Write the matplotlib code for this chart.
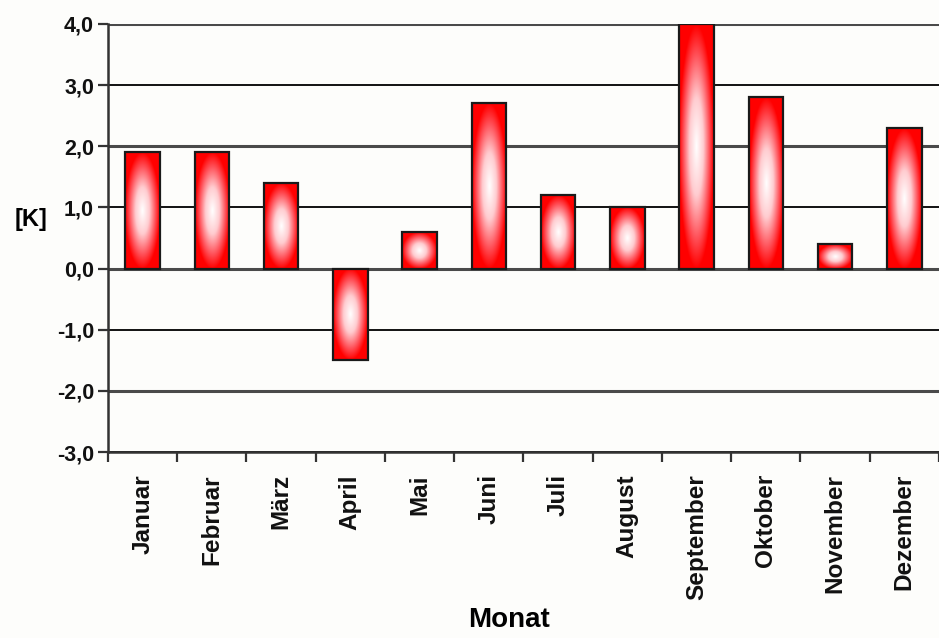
import numpy as np
import matplotlib
matplotlib.use("Agg")
import matplotlib.pyplot as plt
from matplotlib.patches import Rectangle
from matplotlib.ticker import FuncFormatter, FixedLocator
from matplotlib.colors import LinearSegmentedColormap

months = ["Januar", "Februar", "März", "April", "Mai", "Juni", "Juli",
          "August", "September", "Oktober", "November", "Dezember"]
values = [1.9, 1.9, 1.4, -1.5, 0.6, 2.7, 1.2, 1.0, 4.0, 2.8, 0.4, 2.3]
yticks = [-3, -2, -1, 0, 1, 2, 3, 4]

font = ['Liberation Sans', 'DejaVu Sans']
bg = '#fdfdfb'

fig = plt.figure(figsize=(9.39, 6.38), dpi=100)
fig.patch.set_facecolor(bg)
ax = fig.add_axes([0.115, 0.2915, 0.885, 0.671])
ax.set_facecolor(bg)

for y in yticks:
    if y % 2 == 0:
        ax.axhline(y, color='#4a4a4a', lw=2.2, zorder=1)
    else:
        ax.axhline(y, color='#111111', lw=1.4, zorder=1)

# white centre fading to red at the edges
cmap = LinearSegmentedColormap.from_list(
    'rg', [(0.0, '#ffffff'), (0.4, '#ffccd0'), (0.75, '#ff525a'), (1.0, '#ff0000')])
width = 0.5
gx = np.linspace(-1, 1, 101)
gy = np.linspace(-1, 1, 201)
GX, GY = np.meshgrid(gx, gy)
R = np.clip(np.sqrt(GX ** 2 + GY ** 2), 0, 1)

for i, v in enumerate(values):
    x0 = i - width / 2
    y0, y1 = min(0, v), max(0, v)
    rect = Rectangle((x0, y0), width, y1 - y0, facecolor='none',
                     edgecolor='#1a1a1a', lw=1.6, zorder=4)
    ax.add_patch(rect)
    im = ax.imshow(R, cmap=cmap, vmin=0, vmax=1, extent=(x0, x0 + width, y0, y1),
                   origin='lower', aspect='auto', interpolation='bilinear', zorder=3)
    im.set_clip_path(rect)

ax.set_xlim(-0.5, len(months) - 0.5)
ax.set_ylim(-3, 4)

for s in ['top', 'right']:
    ax.spines[s].set_visible(False)
for s in ['left', 'bottom']:
    ax.spines[s].set_color('#333333')
    ax.spines[s].set_linewidth(1.8)

ax.yaxis.set_major_locator(FixedLocator(yticks))
ax.yaxis.set_major_formatter(FuncFormatter(lambda v, p: f"{v:.1f}".replace('.', ',')))
ax.tick_params(axis='y', length=7, width=1.6, color='#333333', pad=3)

ax.set_xticks(np.arange(len(months)))
ax.set_xticklabels(months, rotation=90)
ax.set_xticks(np.arange(-0.5, len(months), 1), minor=True)
ax.tick_params(axis='x', which='major', length=0, pad=16)
ax.tick_params(axis='x', which='minor', length=7, width=1.6, color='#333333')

for lab in ax.get_yticklabels():
    lab.set_fontfamily(font)
    lab.set_fontweight('bold')
    lab.set_fontsize(15.5)
    lab.set_color('#111111')
for lab in ax.get_xticklabels():
    lab.set_fontfamily(font)
    lab.set_fontweight('bold')
    lab.set_fontsize(17.5)
    lab.set_color('#111111')

ax.set_xlabel("Monat", fontfamily=font, fontweight='bold', fontsize=20, va='center')
ax.xaxis.set_label_coords(0.4826, -0.3925)
ax.set_ylabel("[K]", fontfamily=font, fontweight='bold', fontsize=17,
              rotation=0, va='center', ha='center')
ax.yaxis.set_label_coords(-0.092, 0.542)

fig.savefig("out.png", dpi=100, facecolor=fig.get_facecolor())
